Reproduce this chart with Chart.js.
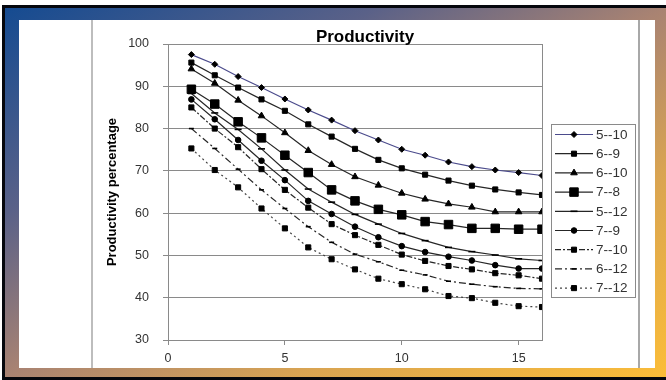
<!DOCTYPE html>
<html>
<head>
<meta charset="utf-8">
<script src="https://cdn.jsdelivr.net/npm/chart.js@4.4.1/dist/chart.umd.min.js"></script>
<style>
  html, body { margin: 0; padding: 0; background: #fff; }
  #wrap { position: relative; width: 666px; height: 380px; overflow: hidden; background: #fff; }
  #blk { position: absolute; left: 2px; top: 5px; width: 664px; height: 375px; background: #05070d; }
  #grad { position: absolute; left: 5px; top: 8px; width: 661px; height: 369px;
    background: linear-gradient(to bottom right, #154b91 0%, #5a6188 28%, #a98372 50%, #d9a452 72%, #fbbd38 100%); }
  #white { position: absolute; left: 19px; top: 20px; width: 636px; height: 348px; background: #fff; }
  .vl { position: absolute; top: 20px; height: 348px; width: 2px; background: #bdbdbd; }
  #c { position: absolute; left: 0; top: 0; }
</style>
</head>
<body>
<div id="wrap">
  <div id="blk"></div>
  <div id="grad"></div>
  <div id="white"></div>
  <div class="vl" style="left:91px"></div>
  <div class="vl" style="left:638px; background:#a8a8a8"></div>
  <canvas id="c" width="666" height="380"></canvas>
</div>
<script>
// ---- data ----
const xs = [1, 2, 3, 4, 5, 6, 7, 8, 9, 10, 11, 12, 13, 14, 15, 16];
const seriesNames = ["5--10", "6--9", "6--10", "7--8", "5--12", "7--9", "7--10", "6--12", "7--12"];
const s5_10 = [97.5, 95.2, 92.3, 89.7, 87.0, 84.4, 82.0, 79.5, 77.3, 75.1, 73.7, 72.1, 71.0, 70.2, 69.6, 68.9];
const s6_9  = [95.6, 92.6, 89.7, 86.9, 84.2, 81.0, 78.1, 75.2, 72.6, 70.6, 69.1, 67.7, 66.5, 65.6, 64.9, 64.3];
const s6_10 = [94.1, 90.7, 86.7, 83.0, 79.0, 74.8, 71.5, 68.6, 66.6, 64.7, 63.3, 62.2, 61.4, 60.3, 60.3, 60.3];
const s7_8  = [89.3, 85.8, 81.6, 77.8, 73.7, 69.6, 65.5, 62.9, 60.9, 59.6, 58.0, 57.3, 56.4, 56.4, 56.2, 56.2];
const s5_12 = [88.3, 83.7, 79.8, 75.2, 70.2, 65.7, 62.6, 59.7, 57.4, 55.2, 53.5, 51.9, 50.9, 50.1, 49.2, 48.8];
const s7_9  = [86.9, 82.2, 77.3, 72.4, 67.8, 62.9, 59.8, 56.8, 54.3, 52.2, 50.8, 49.7, 48.8, 47.7, 46.9, 46.9];
const s7_10 = [85.0, 80.0, 75.6, 70.4, 65.5, 61.3, 57.4, 54.8, 52.5, 50.2, 48.7, 47.5, 46.7, 45.8, 45.3, 44.5];
const s6_12 = [80.0, 75.3, 70.4, 65.5, 61.1, 56.8, 53.1, 50.3, 48.5, 46.5, 45.4, 43.9, 43.2, 42.6, 42.2, 42.1];
const s7_12 = [75.3, 70.2, 66.1, 61.1, 56.4, 51.9, 49.1, 46.7, 44.5, 43.2, 42.0, 40.4, 39.9, 38.8, 38.0, 37.8];
const xTicks = [0, 5, 10, 15];
const yTicks = [30, 40, 50, 60, 70, 80, 90, 100];
const chartTitle = "Productivity";
const yTitle = "Productivity percentage";

const values = [s5_10, s6_9, s6_10, s7_8, s5_12, s7_9, s7_10, s6_12, s7_12];
const styles = [
  { line: '#4b4b8c', dash: [], ps: 'rectRot', r: 3, pbw: 1 },
  { line: '#262626', dash: [], ps: 'rect', r: 3.6, pbw: 1 },
  { line: '#262626', dash: [], ps: 'triangle', r: 3.8, pbw: 1 },
  { line: '#262626', dash: [], ps: 'rect', r: 6, pbw: 1 },
  { line: '#262626', dash: [], ps: 'line', r: 3.5, pbw: 1.6 },
  { line: '#262626', dash: [], ps: 'circle', r: 2.8, pbw: 1 },
  { line: '#262626', dash: [6, 2, 2, 2], ps: 'rect', r: 3.6, pbw: 1 },
  { line: '#262626', dash: [7, 3, 2, 3], ps: 'line', r: 2.5, pbw: 1.6 },
  { line: '#444444', dash: [2, 3], ps: 'rect', r: 3.6, pbw: 1 }
];

const datasets = seriesNames.map((name, i) => ({
  label: name,
  data: xs.map((x, j) => ({ x: x, y: values[i][j] })),
  borderColor: styles[i].line,
  borderWidth: 1.2,
  borderDash: styles[i].dash,
  pointStyle: styles[i].ps,
  pointRadius: styles[i].r,
  pointHoverRadius: styles[i].r,
  pointBackgroundColor: '#000',
  pointBorderColor: '#000',
  pointBorderWidth: styles[i].pbw,
  tension: 0,
  fill: false
}));

const frameAndText = {
  id: 'frameAndText',
  beforeDatasetsDraw(chart) {
    const { ctx, chartArea: a } = chart;
    ctx.save();
    ctx.strokeStyle = '#8a8a8a';
    ctx.lineWidth = 1;
    ctx.strokeRect(Math.round(a.left) + 0.5, Math.round(a.top) + 0.5, Math.round(a.right - a.left), Math.round(a.bottom - a.top));
    ctx.restore();
  },
  afterDraw(chart) {
    const ctx = chart.ctx;
    ctx.save();
    // title
    ctx.fillStyle = '#000';
    ctx.font = 'bold 17px "Liberation Sans", Arial, sans-serif';
    ctx.textAlign = 'center';
    ctx.textBaseline = 'middle';
    ctx.fillText(chartTitle, 365, 37);
    // legend
    const bx = 551, by = 124, bw = 84, bh = 173;
    ctx.fillStyle = '#fff';
    ctx.fillRect(bx, by, bw, bh);
    ctx.strokeStyle = '#8a8a8a';
    ctx.lineWidth = 1;
    ctx.strokeRect(bx + 0.5, by + 0.5, bw, bh);
    chart.data.datasets.forEach((ds, i) => {
      const y = 134.5 + i * 19.2;
      ctx.save();
      ctx.strokeStyle = ds.borderColor;
      ctx.lineWidth = 1.2;
      ctx.setLineDash(ds.borderDash);
      ctx.beginPath();
      ctx.moveTo(555, y);
      ctx.lineTo(593, y);
      ctx.stroke();
      ctx.restore();
      ctx.save();
      ctx.fillStyle = '#000';
      ctx.strokeStyle = '#000';
      ctx.lineWidth = ds.pointBorderWidth;
      Chart.helpers.drawPoint(ctx, { pointStyle: ds.pointStyle, radius: ds.pointRadius, rotation: 0, borderWidth: ds.pointBorderWidth }, 574, y);
      ctx.restore();
      ctx.fillStyle = '#333';
      ctx.font = '13.5px "Liberation Sans", Arial, sans-serif';
      ctx.textAlign = 'left';
      ctx.textBaseline = 'middle';
      ctx.fillText(ds.label, 596, y + 0.5);
    });
    ctx.restore();
  }
};

new Chart(document.getElementById('c'), {
  type: 'line',
  data: { datasets },
  options: {
    responsive: false,
    animation: false,
    events: [],
    layout: { padding: { left: 105, top: 44, right: 124, bottom: 10 } },
    plugins: { legend: { display: false }, title: { display: false }, tooltip: { enabled: false } },
    scales: {
      x: {
        type: 'linear', min: 0, max: 16,
        afterBuildTicks: s => { s.ticks = xTicks.map(v => ({ value: v })); },
        afterFit: s => { s.height = 30; },
        grid: { drawOnChartArea: false, drawTicks: true, tickLength: 5, color: '#8a8a8a' },
        border: { color: '#8a8a8a' },
        ticks: { color: '#333', padding: 6, maxRotation: 0, font: { size: 12.5, family: '"Liberation Sans", Arial, sans-serif' } }
      },
      y: {
        type: 'linear', min: 30, max: 100,
        afterBuildTicks: s => { s.ticks = yTicks.map(v => ({ value: v })); },
        afterFit: s => { s.width = 63; },
        grid: { color: '#8a8a8a', tickLength: 5 },
        border: { color: '#8a8a8a' },
        ticks: { color: '#333', padding: 14, font: { size: 12.5, family: '"Liberation Sans", Arial, sans-serif' } },
        title: { display: true, text: yTitle, color: '#000', padding: 0,
          font: { size: 13, weight: 'bold', family: '"Liberation Sans", Arial, sans-serif' } }
      }
    }
  },
  plugins: [frameAndText]
});
</script>
</body>
</html>
